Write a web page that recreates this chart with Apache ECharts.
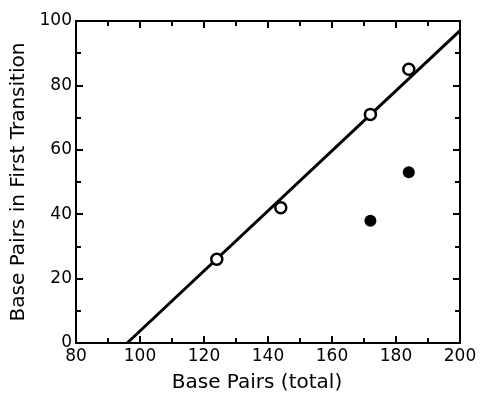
<!DOCTYPE html>
<html>
<head>
<meta charset="utf-8">
<script src="https://cdn.jsdelivr.net/npm/echarts@6/dist/echarts.min.js"></script>
<style>
  html, body { margin: 0; padding: 0; background: #fff; }
  #chart { width: 481px; height: 393px; }
</style>
</head>
<body>
<div id="chart"></div>
<script>
// data
var openPoints = [[124, 26], [144, 42], [172, 71], [184, 85]]
var filledPoints = [[172, 38], [184, 53]]
var fitLine = [[96, 0], [200, 97]]

var fontFam = '"DejaVu Sans", "Liberation Sans", sans-serif'

var myChart = echarts.init(document.getElementById('chart'))

function xAxisDef(pos, withLabels) {
    return {
        type: 'value',
        position: pos,
        min: 80,
        max: 200,
        interval: 20,
        name: withLabels ? 'Base Pairs (total)' : '',
        nameLocation: 'middle',
        nameGap: 30,
        nameTextStyle: {color: '#000', fontSize: 20, fontFamily: fontFam, padding: [0, 22, 0, 0]},
        axisLine: {show: true, onZero: false, lineStyle: {color: '#000', width: 2}},
        axisTick: {show: true, inside: true, length: 7, lineStyle: {color: '#000', width: 2}},
        minorTick: {show: true, splitNumber: 2, length: 5, lineStyle: {color: '#000', width: 2}},
        axisLabel: {show: withLabels, color: '#000', fontSize: 17, fontFamily: fontFam, margin: 5},
        splitLine: {show: false}
    }
}

function yAxisDef(pos, withLabels) {
    return {
        type: 'value',
        position: pos,
        min: 0,
        max: 100,
        interval: 20,
        name: withLabels ? 'Base Pairs in First Transition' : '',
        nameLocation: 'middle',
        nameGap: 47,
        nameTextStyle: {color: '#000', fontSize: 20, fontFamily: fontFam},
        axisLine: {show: true, onZero: false, lineStyle: {color: '#000', width: 2}},
        axisTick: {show: true, inside: true, length: 7, lineStyle: {color: '#000', width: 2}},
        minorTick: {show: true, splitNumber: 2, length: 5, lineStyle: {color: '#000', width: 2}},
        axisLabel: {show: withLabels, color: '#000', fontSize: 17, fontFamily: fontFam, margin: 4},
        splitLine: {show: false}
    }
}

var option = {
    animation: false,
    backgroundColor: '#fff',
    grid: {left: 76, right: 21, top: 21, bottom: 50, outerBoundsMode: 'none', containLabel: false},
    xAxis: [xAxisDef('bottom', true), xAxisDef('top', false)],
    yAxis: [yAxisDef('left', true), yAxisDef('right', false)],
    series: [
        {
            type: 'line',
            data: fitLine,
            symbol: 'none',
            lineStyle: {color: '#000', width: 3},
            z: 2
        },
        {
            type: 'scatter',
            data: openPoints,
            symbol: 'circle',
            symbolSize: 11,
            itemStyle: {color: '#fff', borderColor: '#000', borderWidth: 2.5, opacity: 1},
            z: 3
        },
        {
            type: 'scatter',
            data: filledPoints,
            symbol: 'circle',
            symbolSize: 12,
            itemStyle: {color: '#000', opacity: 1},
            z: 3
        }
    ]
}

myChart.setOption(option)
</script>
</body>
</html>
